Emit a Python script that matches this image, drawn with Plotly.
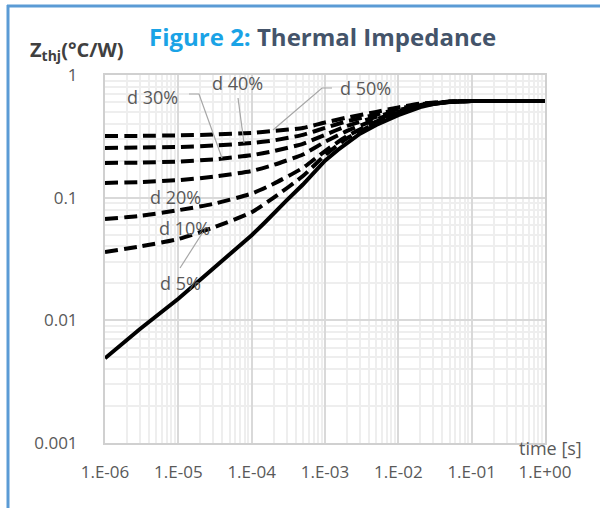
import plotly.graph_objects as go

# ---- data ----
time_s = [1e-6, 3e-6, 1e-5, 3e-5, 1e-4, 2e-4, 5e-4, 1e-3, 2e-3, 5e-3, 1e-2, 2e-2, 5e-2, 1e-1, 1.0]
z_d50 = [0.318, 0.319, 0.322, 0.327, 0.337, 0.35, 0.37, 0.41, 0.45, 0.5, 0.545, 0.585, 0.607, 0.613, 0.613]
z_d40 = [0.254, 0.256, 0.259, 0.266, 0.279, 0.293, 0.325, 0.37, 0.42, 0.475, 0.53, 0.577, 0.606, 0.613, 0.613]
z_d30 = [0.192, 0.193, 0.197, 0.205, 0.222, 0.24, 0.275, 0.325, 0.385, 0.455, 0.515, 0.57, 0.605, 0.613, 0.613]
z_d20 = [0.132, 0.134, 0.139, 0.148, 0.165, 0.185, 0.225, 0.285, 0.35, 0.435, 0.503, 0.566, 0.604, 0.613, 0.613]
z_d10 = [0.067, 0.071, 0.079, 0.089, 0.108, 0.13, 0.175, 0.24, 0.318, 0.417, 0.493, 0.561, 0.604, 0.613, 0.613]
z_d5 = [0.036, 0.040, 0.046, 0.057, 0.076, 0.1, 0.15, 0.222, 0.305, 0.405, 0.485, 0.558, 0.603, 0.613, 0.613]

# single pulse (solid line)
time_single = [1e-6, 3e-6, 1e-5, 3e-5, 5e-5, 1e-4, 1.5e-4, 2e-4, 3e-4, 5e-4, 7e-4, 1e-3,
               1.5e-3, 2e-3, 3e-3, 5e-3, 7e-3, 1e-2, 2e-2, 3e-2, 5e-2, 1e-1, 1.0]
z_single = [0.0049, 0.0085, 0.0150, 0.0265, 0.0342, 0.0494, 0.0625, 0.0747, 0.095, 0.128, 0.160, 0.200,
            0.245, 0.280, 0.332, 0.392, 0.430, 0.470, 0.548, 0.580, 0.604, 0.613, 0.613]

dashed_series = [("d 50%", z_d50), ("d 40%", z_d40), ("d 30%", z_d30),
                 ("d 20%", z_d20), ("d 10%", z_d10), ("d 5%", z_d5)]

x_tickvals = [1e-6, 1e-5, 1e-4, 1e-3, 1e-2, 1e-1, 1]
x_ticktext = ["1.E-06", "1.E-05", "1.E-04", "1.E-03", "1.E-02", "1.E-01", "1.E+00"]
y_tickvals = [0.001, 0.01, 0.1, 1]
y_ticktext = ["0.001", "0.01", "0.1", "1"]

FONT = "Open Sans"
GRAY = "#595959"

# ---- layout geometry (pixels) ----
W, H = 600, 508
L, R, T, B = 105, 55, 75, 65
PW, PH = W - L - R, H - T - B


def px(x):
    return (x - L) / PW


def py(y):
    return (H - B - y) / PH


fig = go.Figure()
for name, vals in dashed_series:
    fig.add_trace(go.Scatter(x=time_s, y=vals, mode="lines", name=name,
                             line=dict(color="black", width=4, dash="13px,6px",
                                       shape="spline", smoothing=0.5)))
fig.add_trace(go.Scatter(x=time_single, y=z_single, mode="lines", name="single",
                         line=dict(color="black", width=4, shape="linear")))

annotations = [
    dict(x=px(322), y=py(36), xref="paper", yref="paper", showarrow=False,
         xanchor="center", yanchor="middle",
         text="<b><span style='color:#1AA3E6'>Figure 2:</span> Thermal Impedance</b>",
         font=dict(family=FONT, size=24, color="#44546A")),
    dict(x=px(28), y=py(51), xref="paper", yref="paper", showarrow=False,
         xanchor="left", yanchor="middle",
         text="<b>Z<sub>thj</sub>(°C/W)</b>",
         font=dict(family=FONT, size=20, color="#404040")),
    dict(x=px(584), y=py(448), xref="paper", yref="paper", showarrow=False,
         xanchor="right", yanchor="middle", text="time [s]",
         font=dict(family=FONT, size=18, color=GRAY)),
]
label_pos = {"d 30%": (152, 97), "d 40%": (237, 83), "d 50%": (365, 88),
             "d 20%": (175, 197), "d 10%": (184, 228), "d 5%": (180, 283)}
for name, (lx, ly) in label_pos.items():
    annotations.append(dict(x=px(lx), y=py(ly), xref="paper", yref="paper", showarrow=False,
                            xanchor="center", yanchor="middle", text=name,
                            font=dict(family=FONT, size=18, color=GRAY)))

leaders = [
    [(189, 94), (199, 94), (222, 158)],
    [(238, 98), (244, 143)],
    [(332, 88), (322, 88), (273, 130)],
    [(180, 268), (203, 232)],
]
shapes = []
for pts in leaders:
    path = "M " + " L ".join(f"{px(a):.4f},{py(b):.4f}" for a, b in pts)
    shapes.append(dict(type="path", path=path, xref="paper", yref="paper",
                       line=dict(color="#A6A6A6", width=1.2)))
# blue frame (top and left)
shapes.append(dict(type="line", xref="paper", yref="paper",
                   x0=px(7), x1=px(600), y0=py(6), y1=py(6),
                   line=dict(color="#5B9BD5", width=3)))
shapes.append(dict(type="line", xref="paper", yref="paper",
                   x0=px(8), x1=px(8), y0=py(5), y1=py(508),
                   line=dict(color="#5B9BD5", width=3)))

fig.update_layout(
    width=W, height=H,
    margin=dict(l=L, r=R, t=T, b=B, pad=0),
    paper_bgcolor="white", plot_bgcolor="white",
    showlegend=False,
    annotations=annotations, shapes=shapes,
    xaxis=dict(type="log", range=[-6, 0], tickvals=x_tickvals, ticktext=x_ticktext,
               tickfont=dict(family=FONT, size=17, color=GRAY),
               showgrid=True, gridcolor="#D9D9D9", gridwidth=2,
               minor=dict(dtick="D1", showgrid=True, gridcolor="#EEEEEE", gridwidth=1.5, ticks=""),
               showline=True, linecolor="#D0D0D0", linewidth=2, mirror=True,
               ticks="", ticklabelstandoff=13, zeroline=False),
    yaxis=dict(type="log", range=[-3, 0], tickvals=y_tickvals, ticktext=y_ticktext,
               tickfont=dict(family=FONT, size=17, color=GRAY),
               showgrid=True, gridcolor="#D9D9D9", gridwidth=2,
               minor=dict(dtick="D1", showgrid=True, gridcolor="#EEEEEE", gridwidth=1.5, ticks=""),
               showline=True, linecolor="#D0D0D0", linewidth=2, mirror=True,
               ticks="", ticklabelstandoff=22, zeroline=False),
)

fig.write_html("out.html")
